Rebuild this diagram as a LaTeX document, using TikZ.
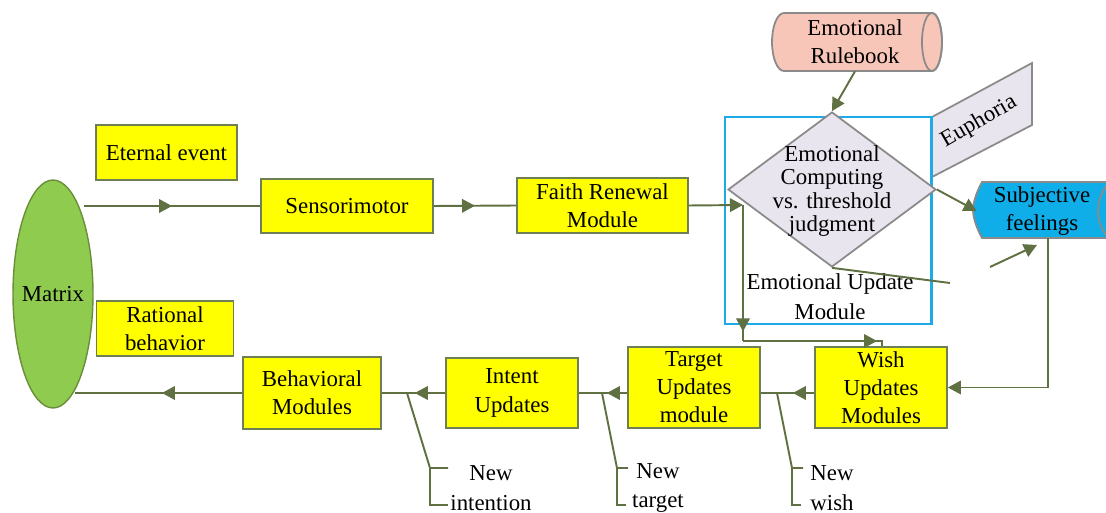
\documentclass[tikz,border=0pt]{standalone}
\usepackage{fontspec}
\setmainfont{Liberation Serif}
\usetikzlibrary{shapes.geometric,arrows.meta,decorations.markings}

\definecolor{conn}{HTML}{5F7043}
\definecolor{boxline}{HTML}{6F7F55}
\definecolor{boxfill}{HTML}{FFFF00}
\definecolor{matfill}{HTML}{8FCB4F}
\definecolor{matline}{HTML}{6B8E3A}
\definecolor{lav}{HTML}{E9E5EF}
\definecolor{greyline}{HTML}{8A8A8A}
\definecolor{salmon}{HTML}{F7C6B8}
\definecolor{skyfill}{HTML}{10AEE8}
\definecolor{framecol}{HTML}{1EAAE6}

\newcommand\fs{\fontsize{13}{16}\selectfont}

\tikzset{
  box/.style={draw=boxline, fill=boxfill, line width=1pt, align=center,
    inner sep=0pt, font=\fs},
  wire/.style={color=conn, line width=1.1pt},
  tipend/.style={-{Triangle[length=2.6mm,width=2.7mm]}},
  tipat/.style={postaction={decorate,decoration={markings,
    mark=at position #1 with {\arrow{Triangle[length=2.6mm,width=2.7mm]}}}}},
  note/.style={align=center, font=\fontsize{13}{17}\selectfont, inner sep=0pt},
}

\begin{document}
\begin{tikzpicture}[x=0.02cm, y=-0.02cm]
\useasboundingbox (0,0) rectangle (1106,513);

% ---------- left column ----------
\node[ellipse, draw=matline, fill=matfill, line width=0.8pt, inner sep=0pt,
  minimum width=1.6cm, minimum height=4.56cm,
  label={[font=\fs]center:Matrix}] (matrix) at (53,294) {};
\coordinate (min)  at (84,206);
\coordinate (mout) at (75,393);

\node[box, minimum width=2.82cm, minimum height=1.10cm] (eternal) at (166.5,152.5) {Eternal event};
\node[box, minimum width=2.74cm, minimum height=1.10cm] (rational) at (165,328.5) {Rational\\behavior};

% ---------- upper row ----------
\node[box, minimum width=3.44cm, minimum height=1.08cm] (sensor) at (347,206) {Sensorimotor};
\node[box, minimum width=3.42cm, minimum height=1.10cm] (faith) at (602.5,205.5) {Faith Renewal\\Module};

% ---------- emotional update module ----------
\node[draw=framecol, line width=1.3pt, minimum width=4.12cm, minimum height=4.14cm,
  inner sep=0pt] (emo) at (828,220.5) {};

\draw[draw=greyline, fill=lav, line width=1pt]
  (932,117) -- (1032,63) -- (1032,125) -- (932,177) -- cycle;
\node[font=\fs, rotate=30, inner sep=0pt] (euph) at (979,122) {Euphoria};
\draw[draw=framecol, line width=1.3pt] (emo.north east) -- (emo.south east);

\node[diamond, draw=greyline, fill=lav, line width=1pt, inner sep=0pt,
  minimum width=4.16cm, minimum height=3.10cm] (dia) at (832,189.5) {};
\node[align=center, font=\fontsize{13}{13.4}\selectfont, inner sep=0pt] (diatext) at (832,191)
  {Emotional\\Computing\\vs. threshold\\judgment};
\node[align=center, font=\fontsize{13}{17}\selectfont, inner sep=0pt] (emolabel) at (830,297)
  {Emotional Update\\Module};

% emotional rulebook: a cylinder lying on its side
\draw[draw=greyline, fill=salmon, line width=1pt]
  (932,13) -- (784,13) arc[start angle=270, end angle=90, x radius=12, y radius=29]
  -- (932,71) arc[start angle=90, end angle=-90, x radius=10, y radius=29] -- cycle;
\draw[draw=greyline, line width=1pt] (932,42) ellipse[x radius=10, y radius=29];
\node[align=center, font=\fs, inner sep=0pt, minimum width=3.2cm, minimum height=1.16cm]
  (rule) at (855,42) {Emotional\\Rulebook};

% subjective feelings (display shape running off the right edge)
\draw[draw=greyline, fill=skyfill, line width=1pt]
  (982,182) -- (1125,182) -- (1125,238) -- (982,238)
  .. controls (977,229) and (973,218) .. (973,210)
  .. controls (973,202) and (977,191) .. cycle;
\draw[draw=greyline, line width=1pt] (1107,185) .. controls (1095,200) and (1095,222) .. (1107,236);
\node[align=center, font=\fontsize{13}{15.5}\selectfont, inner sep=0pt,
  minimum width=2.6cm, minimum height=1.12cm] (subj) at (1042,211) {Subjective\\feelings};

% ---------- lower row ----------
\node[box, minimum width=2.64cm, minimum height=1.62cm] (wish) at (881,387.5) {Wish\\Updates\\Modules};
\node[box, minimum width=2.64cm, minimum height=1.62cm] (target) at (694,387.5) {Target\\Updates\\module};
\node[box, minimum width=2.64cm, minimum height=1.40cm] (intent) at (512,393) {Intent\\Updates};
\node[box, minimum width=2.76cm, minimum height=1.44cm] (behav) at (312,393) {Behavioral\\Modules};

% ---------- connectors ----------
\draw[wire, tipat=0.5] (min) -- (sensor.west);
\draw[wire, tipat=0.5] (sensor.east) -- (faith.west);
\coordinate (fork) at (743,205);
\coordinate (down) at (743,341);
\coordinate (over) at (882,341);
\draw[wire, tipend] (faith.east) -- (fork);
\draw[wire, tipat=0.93] (fork) -- (down);
\draw[wire, tipat=0.93] (down) -- (over) -- (wish.north -| over);

\draw[wire, tipend] (rule.south) -- (dia.north);
\draw[wire, tipend] (dia.east) -- (subj.west);
\coordinate (tail) at (950,283);
\draw[wire] (dia.south) -- (tail);
\coordinate (sa) at (990,267);
\coordinate (sb) at (1037,245);
\draw[wire, tipend] (sa) -- (sb);

\coordinate (sx) at (1048,238);
\draw[wire, tipend] (sx) |- (wish.east);

\draw[wire, tipat=0.4]  (wish.west |- behav.east) -- (target.east |- behav.east);
\draw[wire, tipat=0.42] (target.west |- behav.east) -- (intent.east);
\draw[wire, tipat=0.48] (intent.west) -- (behav.east);
\draw[wire, tipat=0.48] (behav.west) -- (mout);

% ---------- annotations ----------
\node[note] (newi) at (491,488) {New\\intention};
\node[note] (newt) at (658,488) {New\\target};
\node[note] (neww) at (832,488) {New\\wish};

\coordinate (ia) at (407,393); \coordinate (ib) at (430,468);
\coordinate (ta) at (602,393); \coordinate (tb) at (617,468);
\coordinate (wa) at (777,393); \coordinate (wb) at (792,468);
\draw[wire] (ia) -- (ib) -- ++(18,0);
\draw[wire] (ib) -- ++(0,37) -- ++(18,0);
\draw[wire] (ta) -- (tb) -- ++(11,0);
\draw[wire] (tb) -- ++(0,37) -- ++(9,0);
\draw[wire] (wa) -- (wb) -- ++(11,0);
\draw[wire] (wb) -- ++(0,37) -- ++(9,0);
\end{tikzpicture}
\end{document}
